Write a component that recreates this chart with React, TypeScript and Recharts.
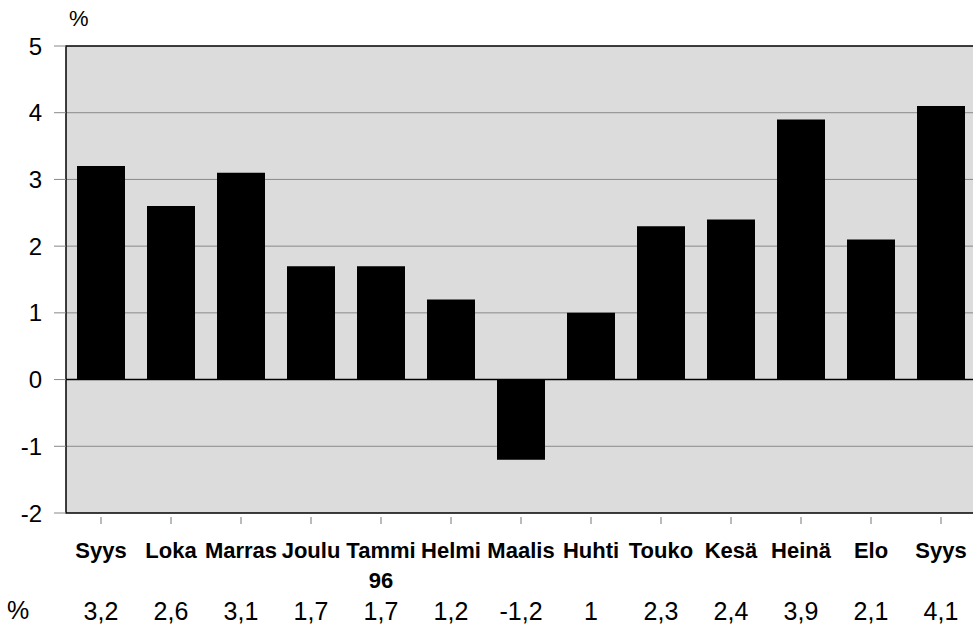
import { BarChart, Bar, XAxis, YAxis, CartesianGrid, ReferenceLine, ReferenceArea } from 'recharts'

const months = ['Syys', 'Loka', 'Marras', 'Joulu', 'Tammi', 'Helmi', 'Maalis', 'Huhti', 'Touko', 'Kesä', 'Heinä', 'Elo', 'Syys']
const subLabels = ['', '', '', '', '96', '', '', '', '', '', '', '', '']
const changes = [3.2, 2.6, 3.1, 1.7, 1.7, 1.2, -1.2, 1, 2.3, 2.4, 3.9, 2.1, 4.1]
const yTicks = [-2, -1, 0, 1, 2, 3, 4, 5]

const data = months.map((m, i) => ({ key: `${m}-${i}`, month: m, sub: subLabels[i], value: changes[i] }))

const FONT = "'Liberation Sans', Arial, sans-serif"

const fmt = (v: number) => String(v).replace('.', ',')

function MonthTick({ x, y, index }: { x?: number; y?: number; index?: number }) {
  const d = data[index ?? 0]
  const cx = x ?? 0
  const cy = y ?? 0
  return (
    <g>
      <line x1={cx} x2={cx} y1={cy + 4} y2={cy + 11} stroke="#777" strokeWidth={1} />
      <text x={cx} y={cy + 45} textAnchor="middle" fontFamily={FONT} fontWeight="bold" fontSize={22} fill="#000">
        {d.month}
      </text>
      {d.sub && (
        <text x={cx} y={cy + 75} textAnchor="middle" fontFamily={FONT} fontWeight="bold" fontSize={22} fill="#000">
          {d.sub}
        </text>
      )}
      <text x={cx} y={cy + 107} textAnchor="middle" fontFamily={FONT} fontSize={25} fill="#000">
        {fmt(d.value)}
      </text>
    </g>
  )
}

export default function App() {
  return (
    <div style={{ position: 'fixed', left: 0, top: 0, width: 973, height: 626, background: '#fff', overflow: 'hidden' }}>
      <BarChart width={976} height={626} data={data} margin={{ top: 46, right: 0, bottom: 83, left: 0 }}>
        <CartesianGrid vertical={false} stroke="#8a8a8a" fill="#dcdcdc" horizontalValues={[-1, 1, 2, 3, 4]} />
        <XAxis dataKey="key" height={30} axisLine={false} tickLine={false} tickSize={0} tickMargin={0} interval={0}
          tick={<MonthTick />} />
        <YAxis domain={[-2, 5]} ticks={yTicks} width={66} axisLine={false} tickSize={12} tickMargin={12}
          tickLine={{ stroke: '#888' }}
          tick={{ fontFamily: FONT, fontSize: 24, fill: '#000' }} />
        <ReferenceLine y={0} stroke="#000" strokeWidth={1.5} />
        <Bar dataKey="value" fill="#000" barSize={48} isAnimationActive={false} />
        <ReferenceArea y1={-2} y2={5} fill="none" stroke="#000" strokeWidth={1.5} ifOverflow="visible" />
      </BarChart>
      <div style={{ position: 'absolute', left: 69, top: 6, fontFamily: FONT, fontSize: 22 }}>%</div>
      <div style={{ position: 'absolute', left: 7, top: 596, fontFamily: FONT, fontSize: 25 }}>%</div>
    </div>
  )
}
